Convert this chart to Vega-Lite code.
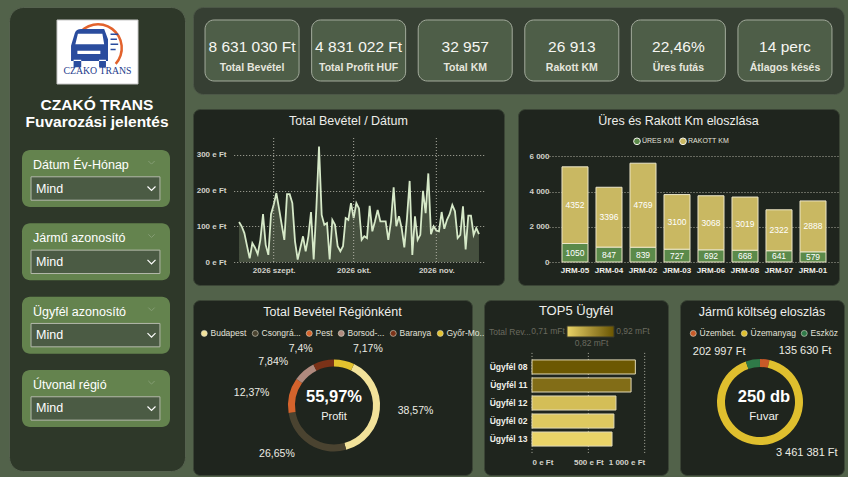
{
  "$schema": "https://vega.github.io/schema/vega-lite/v6.json",
  "background": "#52624a",
  "padding": {"left": 8, "top": 6, "right": 5, "bottom": 7},
  "autosize": {"type": "pad"},
  "bounds": "flush",
  "spacing": 8,
  "resolve": {"scale": {"color": "independent"}, "legend": {"color": "independent"}},
  "config": {
    "font": "Liberation Sans",
    "locale": {
      "number": {"decimal": ",", "thousands": " ", "grouping": [3], "currency": ["", " Ft"]},
      "time": {
        "dateTime": "%Y. %B %-e., %A %X",
        "date": "%Y. %m. %d.",
        "time": "%H:%M:%S",
        "periods": ["de.", "du."],
        "days": ["vasárnap", "hétfő", "kedd", "szerda", "csütörtök", "péntek", "szombat"],
        "shortDays": ["V", "H", "K", "Sze", "Cs", "P", "Szo"],
        "months": ["január", "február", "március", "április", "május", "június", "július", "augusztus", "szeptember", "október", "november", "december"],
        "shortMonths": ["jan.", "febr.", "márc.", "ápr.", "máj.", "jún.", "júl.", "aug.", "szept.", "okt.", "nov.", "dec."]
      }
    },
    "view": {"stroke": null},
    "axis": {
      "labelFont": "Liberation Sans",
      "labelFontWeight": "bold",
      "labelFontSize": 8,
      "labelColor": "#d2d2ca",
      "domain": false,
      "ticks": false,
      "gridColor": "#bdbdb0",
      "gridDash": [1, 2],
      "gridWidth": 1,
      "gridOpacity": 0.9
    },
    "legend": {
      "labelFont": "Liberation Sans",
      "labelColor": "#e2e2da",
      "labelFontSize": 8.5,
      "symbolType": "circle"
    },
    "title": {
      "font": "Liberation Sans",
      "fontSize": 12.5,
      "fontWeight": "normal",
      "color": "#eeeeea",
      "anchor": "middle",
      "frame": "group",
      "baseline": "top"
    }
  },
  "hconcat": [
    {
      "width": 176,
      "height": 464,
      "view": {"fill": "#2e3829", "stroke": "#55614e", "strokeWidth": 1, "cornerRadius": 14},
      "title": {
        "text": ["CZAKÓ TRANS", "Fuvarozási jelentés"],
        "fontSize": 15.5,
        "fontWeight": "bold",
        "color": "#ffffff",
        "lineHeight": 17,
        "offset": -123
      },
      "resolve": {"scale": {"x": "independent", "y": "independent"}},
      "layer": [
        {
          "data": {"values": [{"brand": "CZAKO TRANS"}]},
          "encoding": {
            "x": {"field": "brand", "type": "nominal", "axis": null, "scale": {"range": [48, 129], "paddingInner": 0, "paddingOuter": 0}},
            "y": {"field": "brand", "type": "nominal", "axis": null, "scale": {"range": [13, 77], "paddingInner": 0, "paddingOuter": 0}}
          },
          "layer": [
            {"mark": {"type": "rect", "fill": "#ffffff", "stroke": "#c8c8c8", "strokeWidth": 1}},
            {"mark": {"type": "arc", "radius": 25, "radius2": 22.5, "theta": -1.03, "theta2": 2.3, "fill": "#e2622c", "xOffset": 0.5, "yOffset": -4}},
            {"mark": {"type": "point", "filled": true, "fill": "#2a4c9e", "opacity": 1, "size": 2600, "xOffset": -4.8, "yOffset": -5.1,
              "shape": "M -0.85 0.55 L -0.85 -0.05 L -0.7 -0.55 Q -0.65 -0.7 -0.45 -0.7 L 0.45 -0.7 L 0.6 -0.3 L 0.6 0.55 Z M -0.75 0.5 L -0.75 0.8 L -0.45 0.8 L -0.45 0.5 Z M 0.25 0.5 L 0.25 0.8 L 0.52 0.8 L 0.52 0.5 Z"}},
            {"mark": {"type": "point", "filled": true, "fill": "#ffffff", "opacity": 1, "size": 2600, "xOffset": -4.8, "yOffset": -5.1,
              "shape": "M -0.68 -0.1 L -0.58 -0.52 L 0.38 -0.52 L 0.45 -0.1 Z M -0.6 0.15 L 0.3 0.15 L 0.3 0.28 L -0.6 0.28 Z"}},
            {"mark": {"type": "point", "filled": false, "stroke": "#2a4c9e", "strokeWidth": 1.5, "opacity": 1, "size": 2600, "xOffset": -4.8, "yOffset": -5.1,
              "shape": "M 0.7 -0.5 L 1 -0.5 M 0.7 -0.3 L 0.95 -0.3 M 0.7 -0.1 L 1 -0.1 M 0.7 0.1 L 0.9 0.1"}},
            {"mark": {"type": "text", "font": "Liberation Serif", "fontSize": 9.8, "fill": "#1d3b8c", "baseline": "alphabetic", "dy": 22}, "encoding": {"text": {"field": "brand"}}}
          ]
        },
        {
          "data": {"values": [
            {"slicer": "Dátum Év-Hónap", "choice": "Mind"},
            {"slicer": "Jármű azonosító", "choice": "Mind"},
            {"slicer": "Ügyfél azonosító", "choice": "Mind"},
            {"slicer": "Útvonal régió", "choice": "Mind"}
          ]},
          "encoding": {
            "y": {"field": "slicer", "type": "nominal", "sort": null, "axis": null, "scale": {"range": [143, 420], "paddingInner": 0.222, "paddingOuter": 0}}
          },
          "layer": [
            {"mark": {"type": "rect", "fill": "#64834e", "cornerRadius": 8},
             "encoding": {"x": {"datum": 0, "type": "quantitative", "axis": null, "scale": {"domain": [0, 1], "range": [13, 161]}}, "x2": {"datum": 1}}},
            {"mark": {"type": "rect", "fill": "#4b5b44", "stroke": "#b3b8aa", "strokeWidth": 1},
             "encoding": {"x": {"datum": 0.061, "type": "quantitative"}, "x2": {"datum": 0.932},
                          "y": {"field": "slicer", "type": "nominal", "sort": null, "bandPosition": 0.47}, "y2": {"field": "slicer", "bandPosition": 0.88}}},
            {"mark": {"type": "text", "align": "left", "baseline": "alphabetic", "fontSize": 12.5, "fill": "#ffffff", "dy": 19},
             "encoding": {"x": {"datum": 0.074, "type": "quantitative"}, "y": {"field": "slicer", "type": "nominal", "sort": null, "bandPosition": 0}, "text": {"field": "slicer"}}},
            {"mark": {"type": "text", "align": "left", "baseline": "middle", "fontSize": 12.5, "fill": "#ffffff"},
             "encoding": {"x": {"datum": 0.095, "type": "quantitative"}, "y": {"field": "slicer", "type": "nominal", "sort": null, "bandPosition": 0.675}, "text": {"field": "choice"}}},
            {"mark": {"type": "point", "filled": false, "stroke": "#ffffff", "strokeWidth": 1.2, "opacity": 1, "size": 64, "shape": "M -1 -0.5 L 0 0.5 L 1 -0.5"},
             "encoding": {"x": {"datum": 0.875, "type": "quantitative"}, "y": {"field": "slicer", "type": "nominal", "sort": null, "bandPosition": 0.675}}},
            {"mark": {"type": "point", "filled": false, "stroke": "#8ea57e", "strokeWidth": 1, "opacity": 0.8, "size": 40, "shape": "M -1 -0.5 L 0 0.5 L 1 -0.5"},
             "encoding": {"x": {"datum": 0.875, "type": "quantitative"}, "y": {"field": "slicer", "type": "nominal", "sort": null, "bandPosition": 0.22}}}
          ]
        }
      ]
    },
    {
      "resolve": {"scale": {"color": "independent"}, "legend": {"color": "independent"}},
      "vconcat": [
        {
          "width": 651,
          "height": 87,
          "view": {"fill": "#363f33", "stroke": "#4c5747", "strokeWidth": 1, "cornerRadius": 10},
          "data": {"values": [
            {"label": "Total Bevétel", "value": "8 631 030 Ft"},
            {"label": "Total Profit HUF", "value": "4 831 022 Ft"},
            {"label": "Total KM", "value": "32 957"},
            {"label": "Rakott KM", "value": "26 913"},
            {"label": "Üres futás", "value": "22,46%"},
            {"label": "Átlagos késés", "value": "14 perc"}
          ]},
          "encoding": {
            "x": {"field": "label", "type": "nominal", "sort": null, "axis": null, "scale": {"paddingInner": 0.118, "paddingOuter": 0.113}},
            "y": {"datum": "kpi", "type": "nominal", "axis": null, "scale": {"paddingInner": 0, "paddingOuter": 0.213}}
          },
          "layer": [
            {"mark": {"type": "rect", "fill": "#4e5e48", "stroke": "#a3ab9c", "strokeWidth": 1, "cornerRadius": 9}},
            {"mark": {"type": "text", "fontSize": 15.5, "fill": "#f6f6f2", "baseline": "alphabetic", "dy": 1}, "encoding": {"text": {"field": "value"}}},
            {"mark": {"type": "text", "fontSize": 10.5, "fontWeight": "bold", "fill": "#e6e6de", "baseline": "alphabetic", "dy": 20}, "encoding": {"text": {"field": "label"}}}
          ]
        },
        {
          "resolve": {"scale": {"color": "independent"}, "legend": {"color": "independent"}},
          "hconcat": [
            {
              "width": 311,
              "height": 176,
              "view": {"fill": "#1f251e", "stroke": "#3b4536", "strokeWidth": 1, "cornerRadius": 7},
              "title": {"text": "Total Bevétel / Dátum", "offset": -18},
              "layer": [
                {
                  "data": {"values": [
                    {"date": "2026-08-19", "bevetel": 112000}, {"date": "2026-08-20", "bevetel": 100000}, {"date": "2026-08-21", "bevetel": 81000},
                    {"date": "2026-08-22", "bevetel": 45000}, {"date": "2026-08-23", "bevetel": 10000}, {"date": "2026-08-24", "bevetel": 53000},
                    {"date": "2026-08-25", "bevetel": 40000}, {"date": "2026-08-26", "bevetel": 22000}, {"date": "2026-08-27", "bevetel": 62000},
                    {"date": "2026-08-28", "bevetel": 134000}, {"date": "2026-08-29", "bevetel": 48000}, {"date": "2026-08-30", "bevetel": 20000},
                    {"date": "2026-08-31", "bevetel": 134000}, {"date": "2026-09-01", "bevetel": 160000}, {"date": "2026-09-02", "bevetel": 193000},
                    {"date": "2026-09-03", "bevetel": 150000}, {"date": "2026-09-04", "bevetel": 105000}, {"date": "2026-09-05", "bevetel": 62000},
                    {"date": "2026-09-06", "bevetel": 190000}, {"date": "2026-09-07", "bevetel": 190000}, {"date": "2026-09-08", "bevetel": 165000},
                    {"date": "2026-09-09", "bevetel": 58000}, {"date": "2026-09-10", "bevetel": 7000}, {"date": "2026-09-11", "bevetel": 40000},
                    {"date": "2026-09-12", "bevetel": 72000}, {"date": "2026-09-13", "bevetel": 30000}, {"date": "2026-09-14", "bevetel": 72000},
                    {"date": "2026-09-15", "bevetel": 140000}, {"date": "2026-09-16", "bevetel": 7000}, {"date": "2026-09-17", "bevetel": 150000},
                    {"date": "2026-09-18", "bevetel": 323000}, {"date": "2026-09-19", "bevetel": 132000}, {"date": "2026-09-20", "bevetel": 104000},
                    {"date": "2026-09-21", "bevetel": 109000}, {"date": "2026-09-22", "bevetel": 7000}, {"date": "2026-09-23", "bevetel": 118000},
                    {"date": "2026-09-24", "bevetel": 104000}, {"date": "2026-09-25", "bevetel": 44000}, {"date": "2026-09-26", "bevetel": 30000},
                    {"date": "2026-09-27", "bevetel": 44000}, {"date": "2026-09-28", "bevetel": 123000}, {"date": "2026-09-29", "bevetel": 118000},
                    {"date": "2026-09-30", "bevetel": 165000}, {"date": "2026-10-01", "bevetel": 123000}, {"date": "2026-10-02", "bevetel": 165000},
                    {"date": "2026-10-03", "bevetel": 150000}, {"date": "2026-10-04", "bevetel": 62000}, {"date": "2026-10-05", "bevetel": 72000},
                    {"date": "2026-10-06", "bevetel": 67000}, {"date": "2026-10-07", "bevetel": 157000}, {"date": "2026-10-08", "bevetel": 86000},
                    {"date": "2026-10-09", "bevetel": 114000}, {"date": "2026-10-10", "bevetel": 146000}, {"date": "2026-10-11", "bevetel": 114000},
                    {"date": "2026-10-12", "bevetel": 114000}, {"date": "2026-10-13", "bevetel": 114000}, {"date": "2026-10-14", "bevetel": 62000},
                    {"date": "2026-10-15", "bevetel": 114000}, {"date": "2026-10-16", "bevetel": 209000}, {"date": "2026-10-17", "bevetel": 100000},
                    {"date": "2026-10-18", "bevetel": 128000}, {"date": "2026-10-19", "bevetel": 95000}, {"date": "2026-10-20", "bevetel": 41000},
                    {"date": "2026-10-21", "bevetel": 123000}, {"date": "2026-10-22", "bevetel": 227000}, {"date": "2026-10-23", "bevetel": 20000},
                    {"date": "2026-10-24", "bevetel": 128000}, {"date": "2026-10-25", "bevetel": 62000}, {"date": "2026-10-26", "bevetel": 76000},
                    {"date": "2026-10-27", "bevetel": 199000}, {"date": "2026-10-28", "bevetel": 137000}, {"date": "2026-10-29", "bevetel": 248000},
                    {"date": "2026-10-30", "bevetel": 78000}, {"date": "2026-10-31", "bevetel": 100000}, {"date": "2026-11-01", "bevetel": 88000},
                    {"date": "2026-11-02", "bevetel": 86000}, {"date": "2026-11-03", "bevetel": 140000}, {"date": "2026-11-04", "bevetel": 93000},
                    {"date": "2026-11-05", "bevetel": 118000}, {"date": "2026-11-06", "bevetel": 134000}, {"date": "2026-11-07", "bevetel": 160000},
                    {"date": "2026-11-08", "bevetel": 142000}, {"date": "2026-11-09", "bevetel": 67000}, {"date": "2026-11-10", "bevetel": 76000},
                    {"date": "2026-11-11", "bevetel": 156000}, {"date": "2026-11-12", "bevetel": 35000}, {"date": "2026-11-13", "bevetel": 130000},
                    {"date": "2026-11-14", "bevetel": 130000}, {"date": "2026-11-15", "bevetel": 76000}, {"date": "2026-11-16", "bevetel": 95000},
                    {"date": "2026-11-17", "bevetel": 78000}
                  ]},
                  "mark": {"type": "area", "color": "#4a5543", "opacity": 0.9, "line": {"color": "#d6e9c8", "strokeWidth": 1.8}},
                  "encoding": {
                    "x": {
                      "field": "date", "type": "temporal",
                      "scale": {"type": "utc", "domain": [{"year": 2026, "month": 8, "date": 17, "utc": true}, {"year": 2026, "month": 11, "date": 19, "utc": true}], "range": [40.7, 291.3]},
                      "axis": {
                        "title": null, "grid": false, "offset": -23, "labelPadding": 4,
                        "values": [{"year": 2026, "month": 9, "date": 1, "utc": true}, {"year": 2026, "month": 10, "date": 1, "utc": true}, {"year": 2026, "month": 11, "date": 1, "utc": true}],
                        "labelExpr": "utcFormat(datum.value, '%Y %b')"
                      }
                    },
                    "y": {
                      "field": "bevetel", "type": "quantitative",
                      "scale": {"domain": [0, 350000], "range": [153, 28], "nice": false},
                      "axis": {"title": null, "values": [0, 100000, 200000, 300000], "labelExpr": "format(datum.value / 1000, ',') + ' e Ft'", "offset": -35, "labelPadding": 2}
                    }
                  }
                },
                {
                  "data": {"values": [{"month": "2026-09-01"}, {"month": "2026-10-01"}, {"month": "2026-11-01"}]},
                  "mark": {"type": "rule", "color": "#bdbdb0", "strokeDash": [1, 2], "strokeWidth": 1, "opacity": 0.9},
                  "encoding": {
                    "x": {
                      "field": "month", "type": "temporal",
                      "axis": {
                        "title": null, "grid": false, "offset": -23, "labelPadding": 4,
                        "values": [{"year": 2026, "month": 9, "date": 1, "utc": true}, {"year": 2026, "month": 10, "date": 1, "utc": true}, {"year": 2026, "month": 11, "date": 1, "utc": true}],
                        "labelExpr": "utcFormat(datum.value, '%Y %b')"
                      }
                    },
                    "y": {"datum": 0, "type": "quantitative",
                          "axis": {"title": null, "values": [0, 100000, 200000, 300000], "labelExpr": "format(datum.value / 1000, ',') + ' e Ft'", "offset": -35, "labelPadding": 2}},
                    "y2": {"datum": 350000}
                  }
                }
              ]
            },
            {
              "width": 321,
              "height": 176,
              "view": {"fill": "#1f251e", "stroke": "#3b4536", "strokeWidth": 1, "cornerRadius": 7},
              "title": {"text": "Üres és Rakott Km eloszlása", "offset": -18},
              "data": {"values": [
                {"truck": "JRM-05", "type": "ÜRES KM", "km": 1050}, {"truck": "JRM-05", "type": "RAKOTT KM", "km": 4352},
                {"truck": "JRM-04", "type": "ÜRES KM", "km": 847}, {"truck": "JRM-04", "type": "RAKOTT KM", "km": 3396},
                {"truck": "JRM-02", "type": "ÜRES KM", "km": 839}, {"truck": "JRM-02", "type": "RAKOTT KM", "km": 4769},
                {"truck": "JRM-03", "type": "ÜRES KM", "km": 727}, {"truck": "JRM-03", "type": "RAKOTT KM", "km": 3100},
                {"truck": "JRM-06", "type": "ÜRES KM", "km": 692}, {"truck": "JRM-06", "type": "RAKOTT KM", "km": 3068},
                {"truck": "JRM-08", "type": "ÜRES KM", "km": 668}, {"truck": "JRM-08", "type": "RAKOTT KM", "km": 3019},
                {"truck": "JRM-07", "type": "ÜRES KM", "km": 641}, {"truck": "JRM-07", "type": "RAKOTT KM", "km": 2322},
                {"truck": "JRM-01", "type": "ÜRES KM", "km": 579}, {"truck": "JRM-01", "type": "RAKOTT KM", "km": 2888}
              ]},
              "transform": [
                {"stack": "km", "groupby": ["truck"], "sort": [{"field": "type", "order": "descending"}], "as": ["km0", "km1"]},
                {"calculate": "(datum.km0 + datum.km1) / 2", "as": "kmMid"}
              ],
              "encoding": {
                "x": {
                  "field": "truck", "type": "nominal",
                  "sort": ["JRM-05", "JRM-04", "JRM-02", "JRM-03", "JRM-06", "JRM-08", "JRM-07", "JRM-01"],
                  "scale": {"range": [31, 321], "paddingInner": 0.235, "paddingOuter": 0.382},
                  "axis": {"title": null, "offset": -23, "labelPadding": 4, "labelAngle": 0, "labelColor": "#f0f0ea"}
                }
              },
              "layer": [
                {
                  "mark": {"type": "bar", "stroke": "#ece6c8", "strokeWidth": 1},
                  "encoding": {
                    "y": {"field": "km0", "type": "quantitative", "scale": {"domain": [0, 6000], "range": [153, 47.3], "nice": false},
                          "axis": {"title": null, "values": [0, 2000, 4000, 6000], "labelExpr": "format(datum.value, ',')", "offset": -33, "labelPadding": 2, "grid": true}},
                    "y2": {"field": "km1"},
                    "color": {
                      "field": "type", "type": "nominal",
                      "scale": {"domain": ["ÜRES KM", "RAKOTT KM"], "range": ["#5b8a4a", "#c9b862"]},
                      "legend": {"orient": "none", "legendX": 115, "legendY": 28, "direction": "horizontal", "title": null,
                                 "labelFontSize": 7, "labelColor": "#e4e4dc", "symbolSize": 45, "symbolStrokeColor": "#f2f2ea", "symbolStrokeWidth": 1,
                                 "labelOffset": 1, "columnPadding": 3}
                    }
                  }
                },
                {
                  "mark": {"type": "text", "fontSize": 8.5, "fill": "#ffffff", "baseline": "middle"},
                  "encoding": {
                    "y": {"field": "kmMid", "type": "quantitative",
                          "axis": {"title": null, "values": [0, 2000, 4000, 6000], "labelExpr": "format(datum.value, ',')", "offset": -33, "labelPadding": 2, "grid": true}},
                    "text": {"field": "km", "type": "quantitative", "format": "d"}
                  }
                }
              ]
            }
          ],
          "spacing": 14,
          "bounds": "flush"
        },
        {
          "resolve": {"scale": {"color": "independent"}, "legend": {"color": "independent"}},
          "hconcat": [
            {
              "width": 279,
              "height": 175,
              "view": {"fill": "#1f251e", "stroke": "#3b4536", "strokeWidth": 1, "cornerRadius": 7},
              "title": {"text": "Total Bevétel Régiónként", "offset": -18},
              "layer": [
                {
                  "data": {"values": [
                    {"region": "Budapest", "share": 0.3857},
                    {"region": "Csongrád-Csanád", "share": 0.2665},
                    {"region": "Pest", "share": 0.1237},
                    {"region": "Borsod-Abaúj-Zemplén", "share": 0.0784},
                    {"region": "Baranya", "share": 0.074},
                    {"region": "Győr-Moson-Sopron", "share": 0.0717}
                  ]},
                  "encoding": {
                    "theta": {"field": "share", "type": "quantitative", "stack": true, "scale": {"range": [0.4503, 6.7335]}},
                    "order": {"field": "share", "sort": "descending"}
                  },
                  "layer": [
                    {
                      "mark": {"type": "arc", "radius": 46, "radius2": 39, "xOffset": 1.5, "yOffset": 18},
                      "encoding": {
                        "color": {
                          "field": "region", "type": "nominal",
                          "scale": {"domain": ["Budapest", "Csongrád-Csanád", "Pest", "Borsod-Abaúj-Zemplén", "Baranya", "Győr-Moson-Sopron"],
                                    "range": ["#f2e29a", "#4a4330", "#d4632c", "#b08a7e", "#7b3218", "#e3c22e"]},
                          "legend": {"orient": "none", "legendX": 7, "legendY": 29, "direction": "horizontal", "title": null,
                                     "labelExpr": "length(datum.label) > 9 ? slice(datum.label, 0, 7) + '...' : datum.label",
                                     "symbolSize": 36, "symbolStrokeColor": "#d8d8c8", "symbolStrokeWidth": 0.6, "labelOffset": 2, "columnPadding": 4}
                        }
                      }
                    },
                    {
                      "mark": {"type": "text", "radius": 58, "xOffset": 1.5, "yOffset": 18, "fontSize": 10.5, "fill": "#ececE4", "baseline": "middle",
                               "align": {"expr": "(datum.share_start + datum.share_end) / 2 < 0.4283 || (datum.share_start + datum.share_end) / 2 > 0.9283 ? 'left' : 'right'"},
                               "dx": {"expr": "(datum.share_start + datum.share_end) / 2 < 0.4283 || (datum.share_start + datum.share_end) / 2 > 0.9283 ? 6 : -8"}},
                      "encoding": {
                        "detail": {"field": "region"},
                        "text": {"field": "share", "type": "quantitative", "format": ".2~%"}
                      }
                    }
                  ]
                },
                {
                  "data": {"values": [{"profit": 0.5597, "caption": "Profit"}]},
                  "layer": [
                    {"mark": {"type": "text", "fontSize": 16.5, "fontWeight": "bold", "fill": "#ffffff", "baseline": "middle", "xOffset": 1.5, "dy": 9},
                     "encoding": {"text": {"field": "profit", "type": "quantitative", "format": ".2%"}}},
                    {"mark": {"type": "text", "fontSize": 11, "fill": "#f2f2ee", "baseline": "middle", "xOffset": 1.5, "dy": 29.5},
                     "encoding": {"text": {"field": "caption"}}}
                  ]
                }
              ]
            },
            {
              "width": 184,
              "height": 175,
              "view": {"fill": "#1f251e", "stroke": "#3b4536", "strokeWidth": 1, "cornerRadius": 7},
              "title": {"text": "TOP5 Ügyfél", "offset": -18, "fontSize": 13},
              "layer": [
                {
                  "data": {"values": [{"tick": 0}, {"tick": 500000}, {"tick": 1000000}]},
                  "mark": {"type": "rule", "color": "#bdbdb0", "strokeDash": [1, 2], "strokeWidth": 1, "opacity": 0.9},
                  "encoding": {
                    "x": {"field": "tick", "type": "quantitative",
                          "axis": {"title": null, "values": [0, 500000, 1000000], "labelExpr": "format(datum.value / 1000, ',') + ' e Ft'", "offset": -21, "labelPadding": 4, "grid": false}},
                    "y": {"datum": "Ügyfél 08", "type": "nominal", "bandPosition": -0.5,
                          "axis": {"title": null, "offset": -46, "labelPadding": 3, "labelColor": "#f0f0ea", "labelFontSize": 8.5}},
                    "y2": {"datum": "Ügyfél 13", "bandPosition": 1.5}
                  }
                },
                {
                  "data": {"values": [
                    {"client": "Ügyfél 08", "revenue": 917000},
                    {"client": "Ügyfél 11", "revenue": 879000},
                    {"client": "Ügyfél 12", "revenue": 745000},
                    {"client": "Ügyfél 02", "revenue": 727000},
                    {"client": "Ügyfél 13", "revenue": 710000}
                  ]},
                  "mark": {"type": "bar", "stroke": "#e2dab6", "strokeWidth": 1},
                  "encoding": {
                    "y": {"field": "client", "type": "nominal", "sort": "-x",
                          "scale": {"range": [52, 154], "paddingInner": 0.22, "paddingOuter": 0.44},
                          "axis": {"title": null, "offset": -46, "labelPadding": 3, "labelColor": "#f0f0ea", "labelFontSize": 8.5}},
                    "x": {"field": "revenue", "type": "quantitative",
                          "scale": {"domain": [0, 1000000], "range": [48, 160.7], "nice": false},
                          "axis": {"title": null, "values": [0, 500000, 1000000], "labelExpr": "format(datum.value / 1000, ',') + ' e Ft'", "offset": -21, "labelPadding": 4, "grid": false}},
                    "color": {
                      "field": "revenue", "type": "quantitative",
                      "scale": {"domain": [710000, 920000], "range": ["#ead468", "#6a5600"]},
                      "legend": {
                        "orient": "none", "legendX": 5, "legendY": 26, "direction": "horizontal",
                        "title": "Total Rev...", "titleOrient": "left", "titleFontSize": 8.5, "titleFontWeight": "normal", "titleColor": "#6a6a5e", "titlePadding": 36,
                        "gradientLength": 47, "gradientThickness": 11, "gradientStrokeColor": "#3a3a2a", "gradientStrokeWidth": 1,
                        "values": [550400, 820000, 1079600],
                        "labelExpr": "datum.value < 700000 ? '0,71 mFt' : datum.value > 950000 ? '0,92 mFt' : '0,82 mFt'",
                        "labelOffset": {"expr": "datum.value < 700000 || datum.value > 950000 ? -10 : 2"},
                        "labelColor": "#6a6a5e", "labelFontSize": 8.5, "labelOverlap": false
                      }
                    }
                  }
                }
              ]
            },
            {
              "width": 164,
              "height": 175,
              "view": {"fill": "#1f251e", "stroke": "#3b4536", "strokeWidth": 1, "cornerRadius": 7},
              "title": {"text": "Jármű költség eloszlás", "offset": -18},
              "layer": [
                {
                  "data": {"values": [
                    {"category": "Üzembet.", "cost": 135630},
                    {"category": "Üzemanyag", "cost": 3461381},
                    {"category": "Eszköz", "cost": 202997}
                  ]},
                  "encoding": {
                    "theta": {"field": "cost", "type": "quantitative", "stack": true, "scale": {"range": [0.2234, 6.5066]}},
                    "order": {"field": "cost", "sort": "descending"}
                  },
                  "layer": [
                    {
                      "mark": {"type": "arc", "radius": 43, "radius2": 35, "xOffset": -2, "yOffset": 14.5},
                      "encoding": {
                        "color": {
                          "field": "category", "type": "nominal",
                          "scale": {"domain": ["Üzembet.", "Üzemanyag", "Eszköz"], "range": ["#c85a28", "#dfbf2e", "#2f7a48"]},
                          "legend": {"orient": "none", "legendX": 9, "legendY": 29, "direction": "horizontal", "title": null,
                                     "symbolSize": 36, "symbolStrokeColor": "#d8d8c8", "symbolStrokeWidth": 0.6, "labelOffset": 2, "columnPadding": 4}
                        }
                      }
                    },
                    {
                      "mark": {"type": "text", "radius": 51, "xOffset": -2, "yOffset": 14.5, "fontSize": 11, "fill": "#ececE4", "baseline": "middle",
                               "align": {"expr": "(datum.cost_start + datum.cost_end) / 2 / 3800008 < 0.4644 || (datum.cost_start + datum.cost_end) / 2 / 3800008 > 0.9644 ? 'left' : 'right'"},
                               "dx": {"expr": "(datum.cost_start + datum.cost_end) / 2 / 3800008 < 0.4644 || (datum.cost_start + datum.cost_end) / 2 / 3800008 > 0.9644 ? 13 : -6"}},
                      "encoding": {
                        "detail": {"field": "category"},
                        "text": {"field": "cost", "type": "quantitative", "format": "$,.0f"}
                      }
                    }
                  ]
                },
                {
                  "data": {"values": [{"fuvar": "250 db", "caption": "Fuvar"}]},
                  "layer": [
                    {"mark": {"type": "text", "fontSize": 16.5, "fontWeight": "bold", "fill": "#ffffff", "baseline": "middle", "xOffset": 2, "dy": 9.5},
                     "encoding": {"text": {"field": "fuvar"}}},
                    {"mark": {"type": "text", "fontSize": 11.5, "fill": "#f2f2ee", "baseline": "middle", "xOffset": 2, "dy": 29.5},
                     "encoding": {"text": {"field": "caption"}}}
                  ]
                }
              ]
            }
          ],
          "spacing": 12,
          "bounds": "flush"
        }
      ],
      "spacing": 13,
      "bounds": "full"
    }
  ]
}
